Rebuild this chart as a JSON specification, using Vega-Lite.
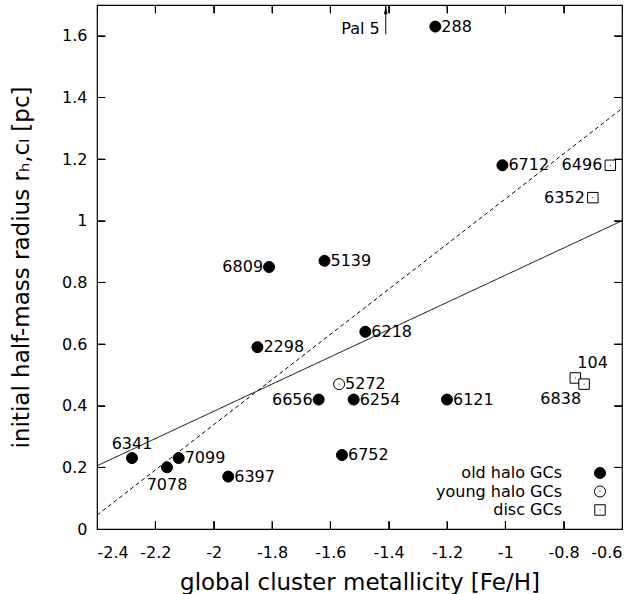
{
  "$schema": "https://vega.github.io/schema/vega-lite/v6.json",
  "autosize": {"type": "none"},
  "width": 525,
  "height": 524,
  "padding": {"left": 97, "top": 5, "right": 17, "bottom": 65},
  "background": "white",
  "config": {
    "font": "DejaVu Sans",
    "view": {"stroke": "black", "strokeWidth": 1.2},
    "axis": {
      "domain": false,
      "grid": false,
      "ticks": true,
      "tickColor": "black",
      "tickSize": 8,
      "tickWidth": 1,
      "offset": -8,
      "labelFont": "DejaVu Sans",
      "labelFontSize": 16,
      "labelFontWeight": "normal",
      "labelColor": "black",
      "titleFont": "DejaVu Sans",
      "titleFontSize": 23,
      "titleFontWeight": "normal",
      "titleColor": "black"
    },
    "legend": {
      "labelFont": "DejaVu Sans",
      "labelFontSize": 16,
      "labelFontWeight": "normal",
      "labelColor": "black"
    },
    "text": {"font": "DejaVu Sans", "fontSize": 16, "color": "black"}
  },
  "datasets": {
    "clusters": [
      {"name": "288", "feh": -1.24, "rh": 1.63, "type": "old halo GCs"},
      {"name": "6712", "feh": -1.01, "rh": 1.18, "type": "old halo GCs"},
      {"name": "6496", "feh": -0.64, "rh": 1.18, "type": "disc GCs"},
      {"name": "6352", "feh": -0.70, "rh": 1.075, "type": "disc GCs"},
      {"name": "6809", "feh": -1.81, "rh": 0.85, "type": "old halo GCs"},
      {"name": "5139", "feh": -1.62, "rh": 0.87, "type": "old halo GCs"},
      {"name": "6218", "feh": -1.48, "rh": 0.64, "type": "old halo GCs"},
      {"name": "2298", "feh": -1.85, "rh": 0.59, "type": "old halo GCs"},
      {"name": "5272", "feh": -1.57, "rh": 0.47, "type": "young halo GCs"},
      {"name": "6656", "feh": -1.64, "rh": 0.42, "type": "old halo GCs"},
      {"name": "6254", "feh": -1.52, "rh": 0.42, "type": "old halo GCs"},
      {"name": "6121", "feh": -1.20, "rh": 0.42, "type": "old halo GCs"},
      {"name": "104", "feh": -0.76, "rh": 0.49, "type": "disc GCs"},
      {"name": "6838", "feh": -0.73, "rh": 0.47, "type": "disc GCs"},
      {"name": "6341", "feh": -2.28, "rh": 0.23, "type": "old halo GCs"},
      {"name": "7078", "feh": -2.16, "rh": 0.20, "type": "old halo GCs"},
      {"name": "7099", "feh": -2.12, "rh": 0.23, "type": "old halo GCs"},
      {"name": "6397", "feh": -1.95, "rh": 0.17, "type": "old halo GCs"},
      {"name": "6752", "feh": -1.56, "rh": 0.24, "type": "old halo GCs"}
    ],
    "fits": [
      {"fit": "solid", "feh": -2.4, "rh": 0.205},
      {"fit": "solid", "feh": -0.6, "rh": 1.0},
      {"fit": "dashed", "feh": -2.4, "rh": 0.045},
      {"fit": "dashed", "feh": -0.6, "rh": 1.364}
    ],
    "pal5": [
      {"name": "Pal 5", "feh": -1.41, "rh": 1.605, "rh2": 1.7}
    ],
    "pal5tip": [
      {"name": "Pal 5", "feh": -1.41, "rh": 1.7}
    ],
    "xticks": [
      {"feh": -2.2}, {"feh": -2.0}, {"feh": -1.8}, {"feh": -1.6}, {"feh": -1.4},
      {"feh": -1.2}, {"feh": -1.0}, {"feh": -0.8}
    ],
    "yticks": [
      {"rh": 0.2}, {"rh": 0.4}, {"rh": 0.6}, {"rh": 0.8}, {"rh": 1.0},
      {"rh": 1.2}, {"rh": 1.4}, {"rh": 1.6}
    ]
  },
  "layer": [
    {
      "data": {"name": "fits"},
      "mark": {"type": "line", "color": "black", "strokeWidth": 1},
      "encoding": {
        "x": {
          "field": "feh", "type": "quantitative",
          "scale": {"domain": [-2.4, -0.6], "nice": false, "zero": false},
          "axis": {"orient": "top", "labels": false, "title": null,
                   "values": [-2.4, -2.2, -2, -1.8, -1.6, -1.4, -1.2, -1, -0.8, -0.6]}
        },
        "y": {
          "field": "rh", "type": "quantitative",
          "scale": {"domain": [0, 1.7], "nice": false, "zero": false},
          "axis": {"orient": "right", "labels": false, "title": null,
                   "values": [0, 0.2, 0.4, 0.6, 0.8, 1, 1.2, 1.4, 1.6]}
        },
        "detail": {"field": "fit"},
        "strokeDash": {
          "field": "fit", "type": "nominal",
          "scale": {"domain": ["solid", "dashed"], "range": [[1, 0], [4, 3]]},
          "legend": null
        }
      }
    },
    {
      "data": {"name": "xticks"},
      "mark": {"type": "rule", "color": "black", "strokeWidth": 1},
      "encoding": {
        "x": {"field": "feh", "type": "quantitative", "axis": null},
        "y": {"datum": 0, "type": "quantitative", "axis": null},
        "y2": {"datum": 0.026}
      }
    },
    {
      "data": {"name": "xticks"},
      "mark": {"type": "rule", "color": "black", "strokeWidth": 1},
      "encoding": {
        "x": {"field": "feh", "type": "quantitative", "axis": null},
        "y": {"datum": 1.7, "type": "quantitative", "axis": null},
        "y2": {"datum": 1.674}
      }
    },
    {
      "data": {"name": "yticks"},
      "mark": {"type": "rule", "color": "black", "strokeWidth": 1},
      "encoding": {
        "y": {"field": "rh", "type": "quantitative", "axis": null},
        "x": {"datum": -2.4, "type": "quantitative", "axis": null},
        "x2": {"datum": -2.3726}
      }
    },
    {
      "data": {"name": "yticks"},
      "mark": {"type": "rule", "color": "black", "strokeWidth": 1},
      "encoding": {
        "y": {"field": "rh", "type": "quantitative", "axis": null},
        "x": {"datum": -0.6, "type": "quantitative", "axis": null},
        "x2": {"datum": -0.6274}
      }
    },
    {
      "data": {"name": "clusters"},
      "mark": {"type": "point", "filled": true, "strokeWidth": 1, "opacity": 1, "size": 121},
      "encoding": {
        "x": {
          "field": "feh", "type": "quantitative",
          "axis": {"orient": "bottom", "title": "global cluster metallicity [Fe/H]",
                   "values": [-2.4, -2.2, -2, -1.8, -1.6, -1.4, -1.2, -1, -0.8, -0.6],
                   "labelExpr": "'' + datum.value", "labelPadding": 15, "titlePadding": 11}
        },
        "y": {
          "field": "rh", "type": "quantitative",
          "axis": {"orient": "left", "title": "initial half-mass radius rₕ,cₗ [pc]",
                   "values": [0, 0.2, 0.4, 0.6, 0.8, 1, 1.2, 1.4, 1.6],
                   "labelExpr": "'' + datum.value", "labelPadding": 10, "titlePadding": 28}
        },
        "shape": {
          "field": "type", "type": "nominal",
          "scale": {
            "domain": ["old halo GCs", "young halo GCs", "disc GCs"],
            "range": [
              "M-1,0A1,1,0,1,1,1,0A1,1,0,1,1,-1,0Z",
              "M-1,0A1,1,0,1,1,1,0A1,1,0,1,1,-1,0Z M-0.08,0L0.08,0",
              "M-0.95,-0.95H0.95V0.95H-0.95Z M-0.08,0L0.08,0"
            ]
          },
          "legend": {
            "orient": "none", "title": null, "legendX": 495, "legendY": 460,
            "labelAlign": "right", "labelOffset": -46, "rowPadding": 2.5,
            "symbolSize": 121, "symbolStrokeWidth": 1
          }
        },
        "fill": {
          "field": "type", "type": "nominal",
          "scale": {
            "domain": ["old halo GCs", "young halo GCs", "disc GCs"],
            "range": ["black", "white", "white"]
          },
          "legend": {
            "orient": "none", "title": null, "legendX": 495, "legendY": 460,
            "labelAlign": "right", "labelOffset": -46, "rowPadding": 2.5,
            "symbolSize": 121, "symbolStrokeWidth": 1
          }
        },
        "stroke": {
          "field": "type", "type": "nominal",
          "scale": {
            "domain": ["old halo GCs", "young halo GCs", "disc GCs"],
            "range": ["black", "black", "black"]
          },
          "legend": {
            "orient": "none", "title": null, "legendX": 495, "legendY": 460,
            "labelAlign": "right", "labelOffset": -46, "rowPadding": 2.5,
            "symbolSize": 121, "symbolStrokeWidth": 1
          }
        }
      }
    },
    {
      "data": {"name": "clusters"},
      "transform": [{"filter": {"field": "name", "oneOf": ["288", "6712", "5139", "6218", "2298", "5272", "6254", "6121", "6752", "7099", "6397"]}}],
      "mark": {"type": "text", "align": "left", "baseline": "middle", "dx": 6},
      "encoding": {
        "x": {"field": "feh", "type": "quantitative", "axis": null},
        "y": {"field": "rh", "type": "quantitative", "axis": null},
        "text": {"field": "name"}
      }
    },
    {
      "data": {"name": "clusters"},
      "transform": [{"filter": {"field": "name", "oneOf": ["6809", "6656"]}}],
      "mark": {"type": "text", "align": "right", "baseline": "middle", "dx": -6},
      "encoding": {
        "x": {"field": "feh", "type": "quantitative", "axis": null},
        "y": {"field": "rh", "type": "quantitative", "axis": null},
        "text": {"field": "name"}
      }
    },
    {
      "data": {"name": "clusters"},
      "transform": [{"filter": {"field": "name", "oneOf": ["6496", "6352"]}}],
      "mark": {"type": "text", "align": "right", "baseline": "middle", "dx": -8},
      "encoding": {
        "x": {"field": "feh", "type": "quantitative", "axis": null},
        "y": {"field": "rh", "type": "quantitative", "axis": null},
        "text": {"field": "name"}
      }
    },
    {
      "data": {"name": "clusters"},
      "transform": [{"filter": {"field": "name", "equal": "6341"}}],
      "mark": {"type": "text", "align": "center", "baseline": "middle", "dy": -14},
      "encoding": {
        "x": {"field": "feh", "type": "quantitative", "axis": null},
        "y": {"field": "rh", "type": "quantitative", "axis": null},
        "text": {"field": "name"}
      }
    },
    {
      "data": {"name": "clusters"},
      "transform": [{"filter": {"field": "name", "equal": "7078"}}],
      "mark": {"type": "text", "align": "center", "baseline": "middle", "dy": 18},
      "encoding": {
        "x": {"field": "feh", "type": "quantitative", "axis": null},
        "y": {"field": "rh", "type": "quantitative", "axis": null},
        "text": {"field": "name"}
      }
    },
    {
      "data": {"name": "clusters"},
      "transform": [{"filter": {"field": "name", "equal": "104"}}],
      "mark": {"type": "text", "align": "left", "baseline": "middle", "dx": 2, "dy": -15},
      "encoding": {
        "x": {"field": "feh", "type": "quantitative", "axis": null},
        "y": {"field": "rh", "type": "quantitative", "axis": null},
        "text": {"field": "name"}
      }
    },
    {
      "data": {"name": "clusters"},
      "transform": [{"filter": {"field": "name", "equal": "6838"}}],
      "mark": {"type": "text", "align": "right", "baseline": "middle", "dx": -3, "dy": 15},
      "encoding": {
        "x": {"field": "feh", "type": "quantitative", "axis": null},
        "y": {"field": "rh", "type": "quantitative", "axis": null},
        "text": {"field": "name"}
      }
    },
    {
      "data": {"name": "pal5"},
      "mark": {"type": "rule", "color": "black", "strokeWidth": 1},
      "encoding": {
        "x": {"field": "feh", "type": "quantitative", "axis": null},
        "y": {"field": "rh", "type": "quantitative", "axis": null},
        "y2": {"field": "rh2"}
      }
    },
    {
      "data": {"name": "pal5tip"},
      "mark": {"type": "point", "filled": true, "color": "black", "opacity": 1, "size": 60, "shape": "M0,0L-0.45,2.4L0.45,2.4Z"},
      "encoding": {
        "x": {"field": "feh", "type": "quantitative", "axis": null},
        "y": {"field": "rh", "type": "quantitative", "axis": null}
      }
    },
    {
      "data": {"name": "pal5"},
      "mark": {"type": "text", "align": "right", "baseline": "alphabetic", "dx": -6},
      "encoding": {
        "x": {"field": "feh", "type": "quantitative", "axis": null},
        "y": {"field": "rh", "type": "quantitative", "axis": null},
        "text": {"field": "name"}
      }
    }
  ]
}
